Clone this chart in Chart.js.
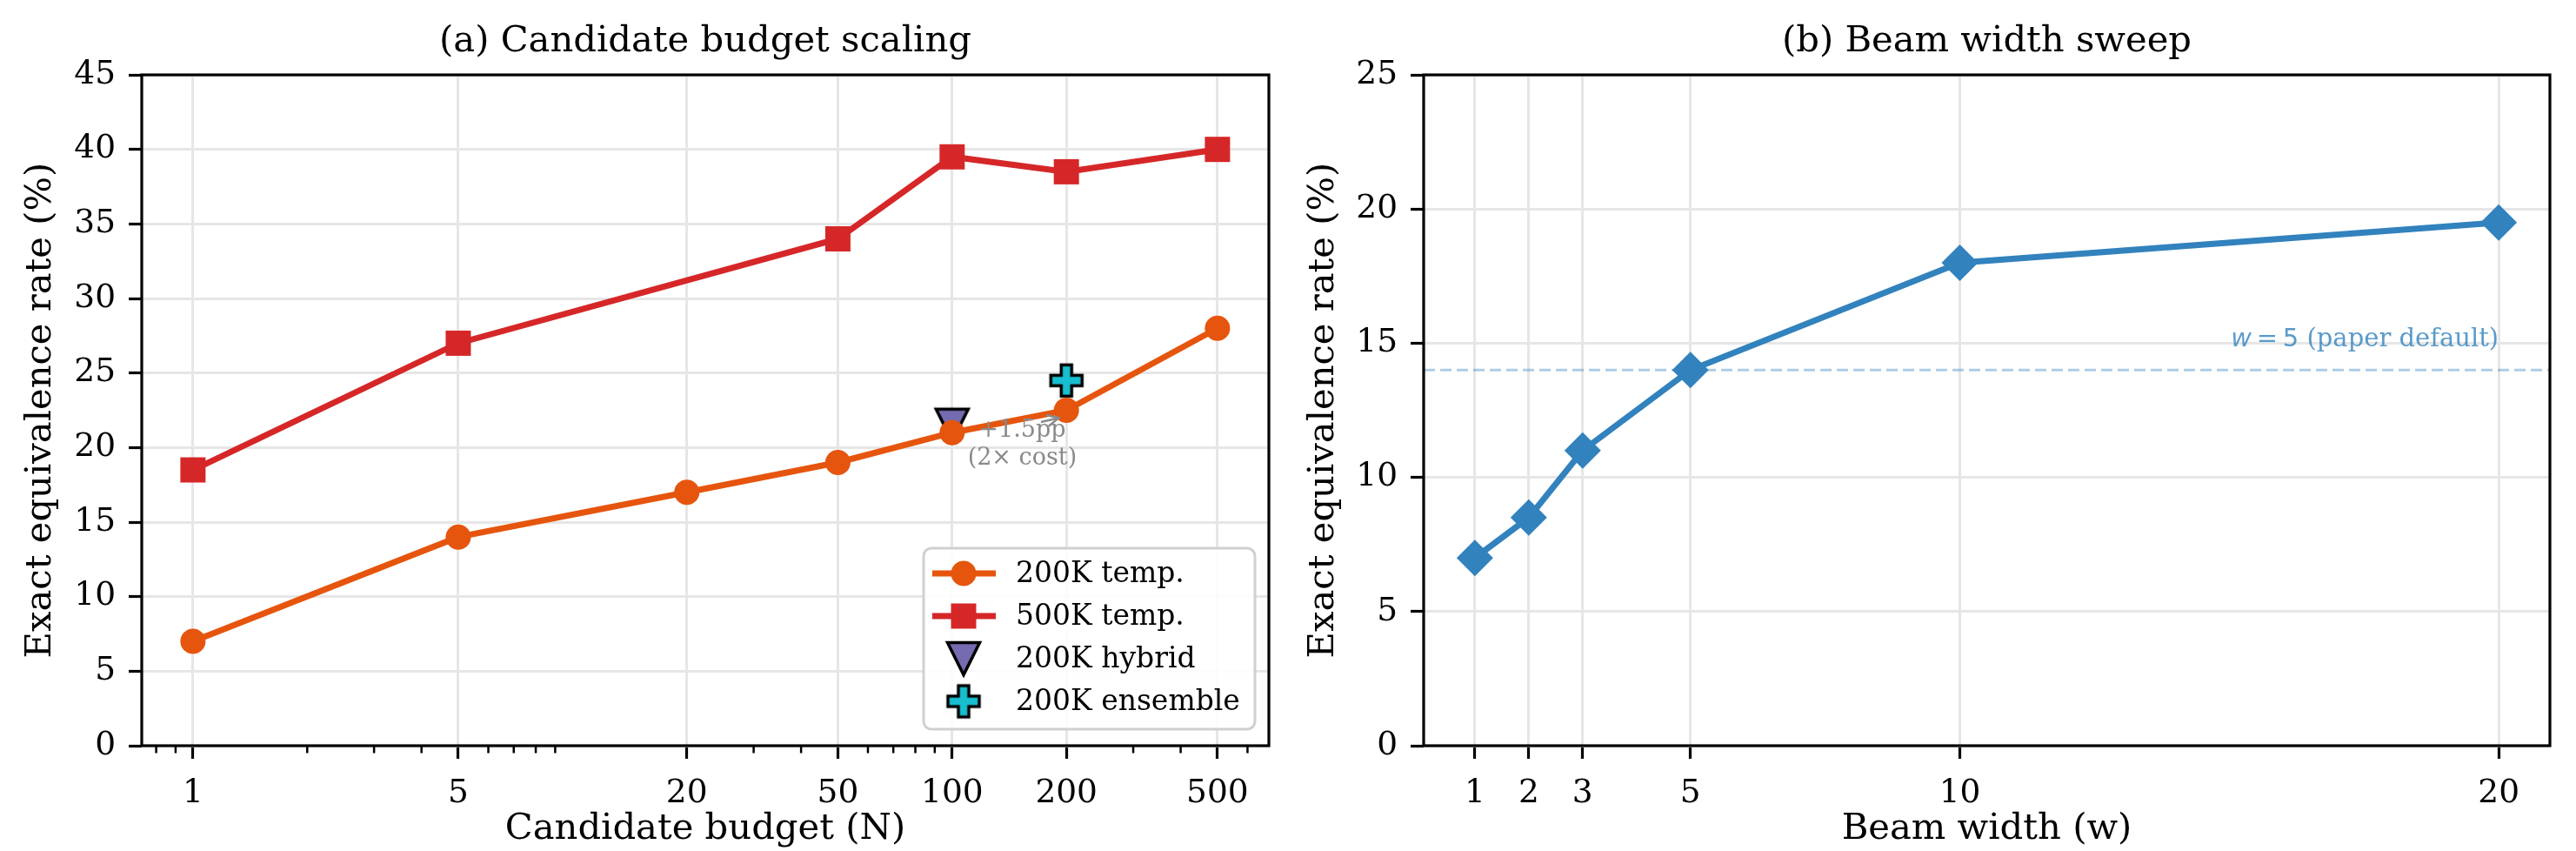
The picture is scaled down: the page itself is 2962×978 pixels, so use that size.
<!DOCTYPE html>
<html><head><meta charset="utf-8">
<script src="https://cdn.jsdelivr.net/npm/chart.js@4.4.1/dist/chart.umd.min.js"></script>
<style>
html,body{margin:0;padding:0;background:#fff;}
#wrap{position:relative;width:2962px;height:978px;overflow:hidden;background:#fff;}
canvas{position:absolute;top:0;}
#c1{left:0}
#c2{left:1481px}
</style></head><body>
<div id="wrap"><canvas id="c1" width="1481" height="978"></canvas><canvas id="c2" width="1481" height="978"></canvas></div>
<script>
// ---------- data ----------
const budget200K = [1, 5, 20, 50, 100, 200, 500];
const temp200K   = [7, 14, 17, 19, 21, 22.5, 28];
const budget500K = [1, 5, 50, 100, 200, 500];
const temp500K   = [18.5, 27, 34, 39.5, 38.5, 40];
const hybridN    = [100];
const hybrid200K = [21.5];
const ensembleN  = [200];
const ensemble200K = [24.5];
const budgetTicks = [1, 5, 20, 50, 100, 200, 500];
const budgetMinorTicks = [0.8, 0.9, 2, 3, 4, 6, 7, 8, 9, 30, 40, 60, 70, 80, 90, 300, 400, 600];
const beamWidths = [1, 2, 3, 5, 10, 20];
const beamRate   = [7, 8.5, 11, 14, 18, 19.5];
const beamTicks  = [1, 2, 3, 5, 10, 20];
const paperDefaultRate = 14;
const costNoteAt = [153, 20.2];
const costNoteTarget = [200, 22.5];
const defaultNoteAt = [20, 14.9];

// ---------- styles ----------
Chart.defaults.font.family = "'DejaVu Serif', serif";
Chart.defaults.color = '#000';
const SERIF = "'DejaVu Serif', serif";
const GRID = '#e6e6e6';

function markerCanvas(kind, size, fill, edge, lw) {
  const pad = lw + 3;
  const dim = Math.ceil(size + 2 * pad);
  const c = document.createElement('canvas');
  c.width = dim; c.height = dim;
  const g = c.getContext('2d');
  const cx = dim / 2, cy = dim / 2, h = size / 2;
  g.beginPath();
  if (kind === 'v') {
    g.moveTo(cx - h, cy - h); g.lineTo(cx + h, cy - h); g.lineTo(cx, cy + h); g.closePath();
  } else {
    const a = size / 6;
    const pts = [[-1,-3],[1,-3],[1,-1],[3,-1],[3,1],[1,1],[1,3],[-1,3],[-1,1],[-3,1],[-3,-1],[-1,-1]];
    pts.forEach((p, i) => { const X = cx + p[0] * a, Y = cy + p[1] * a; i ? g.lineTo(X, Y) : g.moveTo(X, Y); });
    g.closePath();
  }
  g.fillStyle = fill; g.fill();
  g.lineWidth = lw; g.strokeStyle = edge; g.lineJoin = 'miter'; g.stroke();
  return c;
}
const triMarker = markerCanvas('v', 37, '#756bb1', '#000', 3.5);
const plusMarker = markerCanvas('P', 36, '#17becf', '#000', 3.5);

const pts = (xs, ys) => xs.map((x, i) => ({x: x, y: ys[i]}));

function drawMarker(ctx, ds, x, y) {
  const st = ds.pointStyle, r = ds.pointRadius, col = ds.pointBackgroundColor || ds.borderColor;
  ctx.save();
  ctx.fillStyle = col;
  if (st instanceof HTMLCanvasElement) {
    ctx.drawImage(st, x - st.width / 2, y - st.height / 2);
  } else if (st === 'rect') {
    const s = Math.SQRT1_2 * r;
    ctx.fillRect(x - s, y - s, 2 * s, 2 * s);
  } else if (st === 'rectRot') {
    ctx.beginPath(); ctx.moveTo(x - r, y); ctx.lineTo(x, y - r); ctx.lineTo(x + r, y); ctx.lineTo(x, y + r); ctx.closePath(); ctx.fill();
  } else {
    ctx.beginPath(); ctx.arc(x, y, r, 0, Math.PI * 2); ctx.fill();
  }
  ctx.restore();
}

const figPlugin = {
  id: 'fig',
  beforeDatasetsDraw(chart, args, o) {
    const {ctx, chartArea: ca, scales} = chart;
    if (o.hline !== undefined) {
      const y = scales.y.getPixelForValue(o.hline);
      ctx.save();
      ctx.strokeStyle = 'rgba(49,130,189,0.4)';
      ctx.lineWidth = 3;
      ctx.setLineDash([13, 6]);
      ctx.beginPath(); ctx.moveTo(ca.left, y); ctx.lineTo(ca.right, y); ctx.stroke();
      ctx.restore();
    }
  },
  afterDatasetsDraw(chart, args, o) {
    const {ctx, chartArea: ca, scales} = chart;
    ctx.save();
    if (o.minor) {
      ctx.strokeStyle = '#000'; ctx.lineWidth = 2.5;
      o.minor.forEach(v => {
        const x = scales.x.getPixelForValue(v);
        if (x < ca.left || x > ca.right) return;
        ctx.beginPath(); ctx.moveTo(x, ca.bottom); ctx.lineTo(x, ca.bottom + 8.5); ctx.stroke();
      });
    }
    if (o.note) {
      const tx = scales.x.getPixelForValue(o.note.at[0]);
      const ty = scales.y.getPixelForValue(o.note.at[1]);
      const px = scales.x.getPixelForValue(o.note.target[0]);
      const py = scales.y.getPixelForValue(o.note.target[1]);
      ctx.fillStyle = '#8a8a8a';
      ctx.font = "27px " + SERIF;
      ctx.textAlign = 'center'; ctx.textBaseline = 'middle';
      const lh = 32;
      o.note.lines.forEach((t, i) => ctx.fillText(t, tx, ty + (i - (o.note.lines.length - 1) / 2) * lh));
      let dx = px - tx, dy = py - ty; const L = Math.hypot(dx, dy); dx /= L; dy /= L;
      const tipX = px - 11 * dx, tipY = py - 11 * dy + 2;
      const tailX = tipX - 26 * dx, tailY = tipY - 26 * dy * 0.3;
      ctx.strokeStyle = '#8a8a8a'; ctx.lineWidth = 2.5;
      ctx.beginPath(); ctx.moveTo(tailX, tailY); ctx.lineTo(tipX, tipY); ctx.stroke();
      const ang = Math.atan2(tipY - tailY, tipX - tailX);
      ctx.beginPath();
      ctx.moveTo(tipX - 15 * Math.cos(ang - 0.45), tipY - 15 * Math.sin(ang - 0.45));
      ctx.lineTo(tipX, tipY);
      ctx.lineTo(tipX - 15 * Math.cos(ang + 0.45), tipY - 15 * Math.sin(ang + 0.45));
      ctx.stroke();
    }
    if (o.defNote) {
      const rx = scales.x.getPixelForValue(o.defNote.at[0]);
      const by = scales.y.getPixelForValue(o.defNote.at[1]);
      const parts = [
        {t: 'w', f: "italic 29px 'DejaVu Sans', sans-serif"},
        {t: '\u2009=\u20095', f: "29px 'DejaVu Sans', sans-serif"},
        {t: ' (paper default)', f: "29px " + SERIF}
      ];
      ctx.fillStyle = 'rgba(49,130,189,0.8)';
      ctx.textBaseline = 'alphabetic'; ctx.textAlign = 'left';
      let total = 0;
      parts.forEach(p => { ctx.font = p.f; p.w = ctx.measureText(p.t).width; total += p.w; });
      let x = rx - total;
      parts.forEach(p => { ctx.font = p.f; ctx.fillText(p.t, x, by); x += p.w; });
    }
    ctx.strokeStyle = '#000'; ctx.lineWidth = 3.2;
    ctx.strokeRect(ca.left, ca.top, ca.right - ca.left, ca.bottom - ca.top);
    if (o.legend) {
      const w = 381, h = 208;
      const bx = ca.right - 16 - w, by = ca.bottom - 19 - h;
      ctx.fillStyle = 'rgba(255,255,255,0.85)';
      ctx.strokeStyle = '#d0d0d0'; ctx.lineWidth = 3;
      ctx.beginPath(); ctx.roundRect(bx, by, w, h, 9); ctx.fill(); ctx.stroke();
      chart.data.datasets.forEach((ds, i) => {
        const cy = by + 29 + i * 49;
        if (ds.showLine) {
          ctx.strokeStyle = ds.borderColor; ctx.lineWidth = ds.borderWidth;
          ctx.beginPath(); ctx.moveTo(bx + 10, cy); ctx.lineTo(bx + 83, cy); ctx.stroke();
        }
        drawMarker(ctx, ds, bx + 46, cy);
        ctx.fillStyle = '#000'; ctx.font = "33px " + SERIF;
        ctx.textAlign = 'left'; ctx.textBaseline = 'middle';
        ctx.fillText(ds.label, bx + 106, cy + 1);
      });
    }
    ctx.restore();
  }
};

function baseScales(o) {
  return {
    x: Object.assign({
      min: o.xmin, max: o.xmax, bounds: 'data',
      afterBuildTicks: s => { s.ticks = o.xticks.map(v => ({value: v})); },
      afterFit: s => { s.height = 121; },
      ticks: {callback: v => String(v), font: {size: 37.5}, color: '#000', padding: 18, maxRotation: 0, autoSkip: false},
      grid: {color: GRID, lineWidth: 3, drawTicks: true, tickLength: 15, tickColor: '#000', tickWidth: 3.2},
      border: {display: false},
      title: {display: true, text: o.xtitle, font: {size: 41.7}, color: '#000', padding: {top: 0, bottom: 0}}
    }, o.xextra),
    y: {
      type: 'linear', min: 0, max: o.ymax,
      afterFit: s => { s.width = o.yw; },
      ticks: {stepSize: 5, font: {size: 37.5}, color: '#000', padding: 15},
      grid: {color: GRID, lineWidth: 3, drawTicks: true, tickLength: 15, tickColor: '#000', tickWidth: 3.2},
      border: {display: false},
      title: {display: true, text: 'Exact equivalence rate (%)', font: {size: 41.7}, color: '#000', padding: {top: o.ytpad, bottom: 0}}
    }
  };
}

function titleOpts(text) {
  return {display: true, text: text, fullSize: false, font: {size: 41.7, weight: 'normal'}, color: '#000',
          padding: {top: 23, bottom: 13}, align: 'center'};
}

new Chart(document.getElementById('c1'), {
  type: 'scatter',
  data: {
    datasets: [
      {label: '200K temp.', data: pts(budget200K, temp200K), showLine: true, borderColor: '#e6550d', backgroundColor: '#e6550d',
       pointBackgroundColor: '#e6550d', pointBorderWidth: 0, borderWidth: 7, pointStyle: 'circle', pointRadius: 14.5},
      {label: '500K temp.', data: pts(budget500K, temp500K), showLine: true, borderColor: '#d62728', backgroundColor: '#d62728',
       pointBackgroundColor: '#d62728', pointBorderWidth: 0, borderWidth: 7, pointStyle: 'rect', pointRadius: 20.5},
      {label: '200K hybrid', data: pts(hybridN, hybrid200K), showLine: false, borderColor: '#756bb1', backgroundColor: '#756bb1',
       pointStyle: triMarker, pointRadius: 20},
      {label: '200K ensemble', data: pts(ensembleN, ensemble200K), showLine: false, borderColor: '#17becf', backgroundColor: '#17becf',
       pointStyle: plusMarker, pointRadius: 20}
    ]
  },
  options: {
    responsive: false, animation: false, events: [],
    layout: {padding: {left: 0, top: 0, right: 22, bottom: 0}},
    scales: baseScales({xmin: 0.733, xmax: 683, xticks: budgetTicks, xtitle: 'Candidate budget (N)',
                        xextra: {type: 'logarithmic'}, ymax: 45, yw: 163, ytpad: 22}),
    plugins: {
      legend: {display: false}, tooltip: {enabled: false},
      title: titleOpts('(a) Candidate budget scaling'),
      fig: {minor: budgetMinorTicks, legend: true,
            note: {at: costNoteAt, target: costNoteTarget, lines: ['+1.5pp', '(2\u00d7 cost)']}}
    }
  },
  plugins: [figPlugin]
});

new Chart(document.getElementById('c2'), {
  type: 'scatter',
  data: {
    datasets: [
      {label: 'Beam width', data: pts(beamWidths, beamRate), showLine: true, borderColor: '#3182bd', backgroundColor: '#3182bd',
       pointBackgroundColor: '#3182bd', pointBorderWidth: 0, borderWidth: 7, pointStyle: 'rectRot', pointRadius: 21}
    ]
  },
  options: {
    responsive: false, animation: false, events: [],
    layout: {padding: {left: 0, top: 0, right: 30, bottom: 0}},
    scales: baseScales({xmin: 0.05, xmax: 20.95, xticks: beamTicks, xtitle: 'Beam width (w)',
                        xextra: {type: 'linear'}, ymax: 25, yw: 156, ytpad: 16}),
    plugins: {
      legend: {display: false}, tooltip: {enabled: false},
      title: titleOpts('(b) Beam width sweep'),
      fig: {hline: paperDefaultRate, defNote: {at: defaultNoteAt}}
    }
  },
  plugins: [figPlugin]
});
</script>
</body></html>
